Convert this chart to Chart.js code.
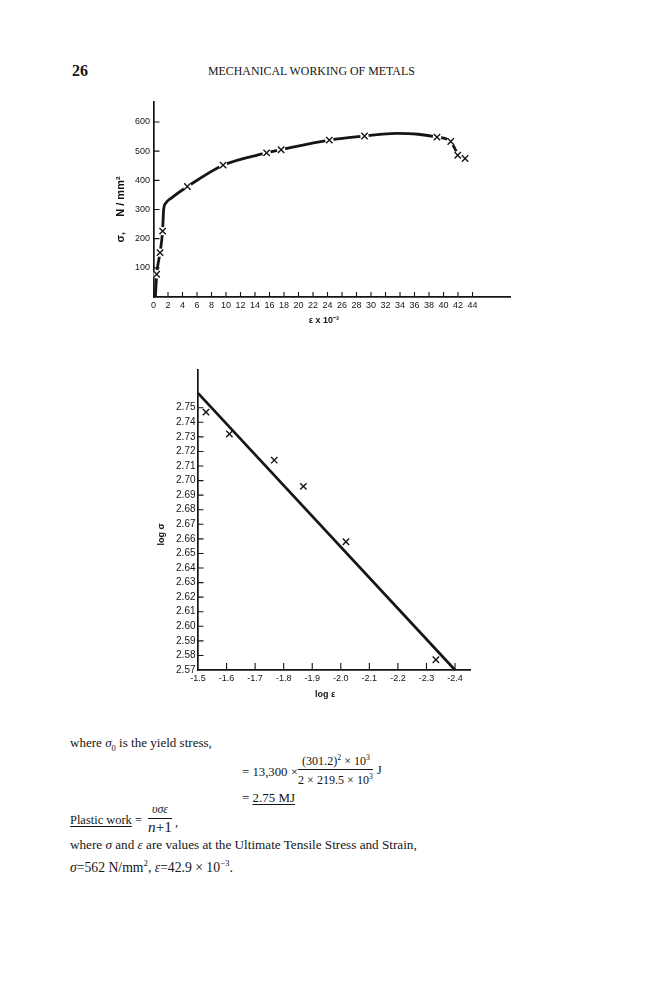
<!DOCTYPE html>
<html><head><meta charset="utf-8">
<script src="https://cdn.jsdelivr.net/npm/chart.js@4.4.1/dist/chart.umd.min.js"></script>
<style>
html,body{margin:0;padding:0;background:#fff;}
body{width:648px;height:1000px;position:relative;overflow:hidden;font-family:"Liberation Serif","Times New Roman",serif;color:#151515;}
canvas{position:absolute;left:0;}
.t{position:absolute;white-space:pre;line-height:1;}
.bar{position:absolute;height:0;border-top:1px solid #151515;}
.u{text-decoration:underline;text-underline-offset:2px;text-decoration-thickness:1px;}
sup,sub{font-size:0.65em;line-height:0;}
</style></head>
<body>
<canvas id="c1" width="648" height="250" style="top:90px;width:648px;height:250px"></canvas>
<canvas id="c2" width="648" height="355" style="top:355px;width:648px;height:355px"></canvas>

<div class="t" data-x="72" data-y="71" data-w="16" data-fs="17" style="font-weight:bold">26</div>
<div class="t" data-x="208" data-y="72" data-w="207">MECHANICAL WORKING OF METALS</div>

<div class="t" data-x="70" data-y="743" data-w="142">where <i>σ</i><sub>0</sub> is the yield stress,</div>
<div class="t" data-x="242" data-y="772" data-w="56">= 13,300 ×</div>
<div class="t" data-x="302" data-y="761" data-w="68">(301.2)<sup>2</sup> × 10<sup>3</sup></div>
<div class="bar" style="left:298px;top:769px;width:75px"></div>
<div class="t" data-x="298" data-y="780" data-w="75">2 × 219.5 × 10<sup>3</sup></div>
<div class="t" data-x="377" data-y="770">J</div>
<div class="t" data-x="242" data-y="798" data-w="53">= <span class="u">2.75 MJ</span></div>

<div class="t" data-x="70" data-y="820" data-w="72"><span class="u">Plastic work</span> =</div>
<div class="t" data-x="152" data-y="810" data-w="16"><i>υσε</i></div>
<div class="bar" style="left:148px;top:818px;width:24px"></div>
<div class="t" data-x="148" data-y="827" data-w="24"><i>n</i>+1</div>
<div class="t" data-x="175" data-y="822">,</div>
<div class="t" data-x="70" data-y="845" data-w="347">where <i>σ</i> and <i>ε</i> are values at the Ultimate Tensile Stress and Strain,</div>
<div class="t" data-x="70" data-y="868" data-w="163"><i>σ</i>=562 N/mm<sup>2</sup>, <i>ε</i>=42.9 × 10<sup>−3</sup>.</div>

<script>
// ---------- Chart 1 : stress-strain curve ----------
const strainTicks = [0,2,4,6,8,10,12,14,16,18,20,22,24,26,28,30,32,34,36,38,40,42,44];
const stressTicks = [100,200,300,400,500,600];
const curveStrain = [0.25,0.45,0.9,1.25,1.4,1.7,2.5,4.7,9.6,15.6,17.6,24.25,29.1,33.5,36.5,39.1,41.0,41.5,42.0,42.97];
const curveStress = [0,80,152,226,300,322,340,379,452,494,505,538,552,561,558,548,533,512,488,475];
const pointStrain = [0.44,0.9,1.26,4.67,9.6,15.6,17.6,24.25,29.1,39.1,41.0,41.96,42.97];
const pointStress = [78,152,226,379,452,494,505,538,552,548,533,486,475];

// ---------- Chart 2 : log stress vs log strain ----------
const logStrainTicks = [-1.5,-1.6,-1.7,-1.8,-1.9,-2.0,-2.1,-2.2,-2.3,-2.4];
const logStressTicks = [2.57,2.58,2.59,2.60,2.61,2.62,2.63,2.64,2.65,2.66,2.67,2.68,2.69,2.70,2.71,2.72,2.73,2.74,2.75];
const fitLogStrain = [-1.5,-2.4];
const fitLogStress = [2.760,2.570];
const pointLogStrain = [-1.528,-1.610,-1.767,-1.869,-2.018,-2.333];
const pointLogStress = [2.747,2.732,2.714,2.696,2.658,2.577];

const INK = '#151515';
Chart.defaults.color = INK;
Chart.defaults.font.family = '"Liberation Sans", Arial, sans-serif';

const zip = (xs, ys) => xs.map((x, i) => ({x, y: ys[i]}));

const innerTicks = {
  id: 'innerTicks',
  afterDraw(chart, args, o) {
    const {ctx, chartArea: a, scales: {x, y}} = chart;
    ctx.save();
    ctx.strokeStyle = INK; ctx.lineWidth = o.width;
    ctx.beginPath();
    x.ticks.forEach(t => { const p = x.getPixelForValue(t.value); if (Math.abs(p - a.left) < 2) return;
      ctx.moveTo(p, a.bottom); ctx.lineTo(p, a.bottom - o.xLen); });
    y.ticks.forEach(t => { const p = y.getPixelForValue(t.value); if (Math.abs(p - a.bottom) < 2) return;
      ctx.moveTo(a.left, p); ctx.lineTo(a.left + o.yLen, p); });
    ctx.stroke();
    ctx.restore();
  }
};

const axisTitles = {
  id: 'axisTitles',
  afterDraw(chart, args, o) {
    const {ctx, chartArea: a, scales: {x, y}} = chart;
    ctx.save();
    ctx.fillStyle = INK; ctx.textAlign = 'center'; ctx.textBaseline = 'middle';
    ctx.font = o.xFont;
    ctx.fillText(o.xText, x.getPixelForValue(o.xAt), a.bottom + o.xOffset);
    ctx.translate(a.left - o.yOffset, y.getPixelForValue(o.yAt));
    ctx.rotate(-Math.PI / 2);
    ctx.font = o.yFont;
    ctx.fillText(o.yText, 0, 0);
    ctx.restore();
  }
};

function axis(opts) {
  return Object.assign({
    type: 'linear',
    grid: {display: false, drawTicks: false, tickLength: 0},
    border: {display: true, color: INK, width: 1.7}
  }, opts);
}

new Chart(document.getElementById('c1'), {
  type: 'scatter',
  data: {
    datasets: [
      {data: zip(pointStrain, pointStress), pointStyle: 'crossRot', pointRadius: 4.5, borderColor: INK, borderWidth: 1.4, order: 0},
      {data: zip(pointStrain, pointStress), pointStyle: 'circle', pointRadius: 4.2, backgroundColor: '#fff', borderWidth: 0, order: 1},
      {data: zip(curveStrain, curveStress), showLine: true, pointRadius: 0, borderColor: INK, borderWidth: 2.8,
       cubicInterpolationMode: 'monotone', clip: false, order: 2}
    ]
  },
  options: {
    responsive: false, animation: false,
    layout: {padding: {left: 0, right: 138, top: 12, bottom: 0}},
    plugins: {
      legend: {display: false}, tooltip: {enabled: false},
      innerTicks: {width: 1.1, xLen: 5, yLen: 6},
      axisTitles: {xText: 'ε x 10⁻³', xAt: 23.5, xOffset: 24, xFont: 'bold 9px "Liberation Sans"',
                   yText: 'σ,     N / mm²', yAt: 300, yOffset: 32.5, yFont: 'bold 11px "Liberation Sans"'}
    },
    scales: {
      x: axis({min: 0, max: 49.17,
        afterFit: s => { s.height = 43; },
        afterBuildTicks: s => { s.ticks = strainTicks.map(v => ({value: v})); },
        ticks: {autoSkip: false, maxRotation: 0, minRotation: 0, padding: 3, color: INK, font: {size: 9}, callback: v => String(v)}}),
      y: axis({min: 0, max: 668.6,
        afterFit: s => { s.width = 153.5; },
        afterBuildTicks: s => { s.ticks = stressTicks.map(v => ({value: v})); },
        ticks: {autoSkip: false, padding: 3.5, color: INK, font: {size: 9}, callback: v => String(v)}})
    }
  },
  plugins: [innerTicks, axisTitles]
});

new Chart(document.getElementById('c2'), {
  type: 'scatter',
  data: {
    datasets: [
      {data: zip(pointLogStrain, pointLogStress), pointStyle: 'crossRot', pointRadius: 4.5, borderColor: INK, borderWidth: 1.4, order: 0},
      {data: zip(fitLogStrain, fitLogStress), showLine: true, pointRadius: 0, borderColor: INK, borderWidth: 2.7, clip: false, order: 1}
    ]
  },
  options: {
    responsive: false, animation: false,
    layout: {padding: {left: 0, right: 178, top: 15, bottom: 0}},
    plugins: {
      legend: {display: false}, tooltip: {enabled: false},
      innerTicks: {width: 1.1, xLen: 7, yLen: 5.5},
      axisTitles: {xText: 'log ε', xAt: -1.945, xOffset: 25, xFont: 'bold 9px "Liberation Sans"',
                   yText: 'log σ', yAt: 2.663, yOffset: 36, yFont: 'bold 9px "Liberation Sans"'}
    },
    scales: {
      x: axis({min: -2.4524, max: -1.5, reverse: true,
        afterFit: s => { s.height = 40; },
        afterBuildTicks: s => { s.ticks = logStrainTicks.map(v => ({value: v})); },
        ticks: {autoSkip: false, maxRotation: 0, minRotation: 0, padding: 3, color: INK, font: {size: 9}, callback: v => v.toFixed(1)}}),
      y: axis({min: 2.57, max: 2.7759,
        afterFit: s => { s.width = 198; },
        afterBuildTicks: s => { s.ticks = logStressTicks.map(v => ({value: v})); },
        ticks: {autoSkip: false, padding: 2.5, color: INK, font: {size: 10}, callback: v => v.toFixed(2)}})
    }
  },
  plugins: [innerTicks, axisTitles]
});

// ---------- page text placement ----------
document.querySelectorAll('.t').forEach(el => {
  const x = +el.dataset.x, y = +el.dataset.y;
  const fs = el.dataset.fs ? +el.dataset.fs : 12;
  el.style.fontSize = fs + 'px';
  if (el.dataset.w) {
    const r = el.getBoundingClientRect().width;
    el.style.fontSize = (fs * (+el.dataset.w) / r) + 'px';
  }
  el.style.left = x + 'px';
  const h = el.getBoundingClientRect().height;
  el.style.top = (y - h / 2) + 'px';
});
</script>
</body></html>
